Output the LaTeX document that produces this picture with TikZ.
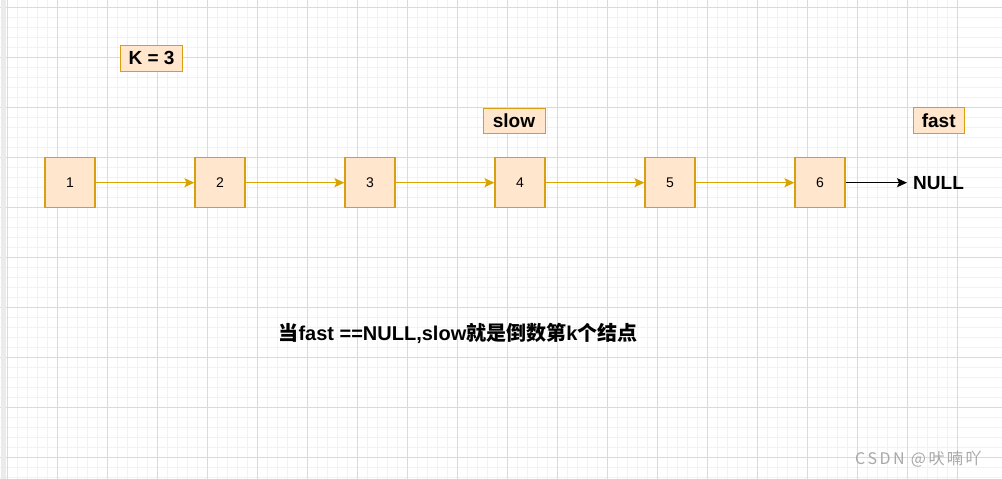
\documentclass[tikz,border=0pt]{standalone}
\usepackage{fontspec}
\setmainfont{Liberation Sans}
\newfontfamily\cjk{Noto Sans CJK SC}
\newfontfamily\cjkwm{Noto Sans CJK SC}[LetterSpace=16]
\usetikzlibrary{arrows.meta}
\definecolor{boxfill}{HTML}{FFE6CC}
\definecolor{boxline}{HTML}{D89F10}
\definecolor{arrowcol}{HTML}{D9A300}
\definecolor{gridmajor}{HTML}{DADADA}
\definecolor{gridminor}{HTML}{F2F2F2}
\definecolor{wmark}{HTML}{A8A8A8}
\tikzset{
  listnode/.style={draw=boxline, fill=boxfill, line width=1.1pt, minimum width=50pt, minimum height=50pt, inner sep=0pt, font=\fontsize{14}{16}\selectfont},
  tagbox/.style={draw=boxline, fill=boxfill, line width=1pt, minimum height=25pt, inner sep=0pt, font=\fontsize{19}{21}\selectfont\bfseries},
  link/.style={draw=arrowcol, line width=1.4pt, -{Stealth[length=10pt,width=9pt,inset=2pt]}},
  blacklink/.style={draw=black, line width=1.2pt, -{Stealth[length=10pt,width=9pt,inset=2pt]}},
}
\begin{document}
\begin{tikzpicture}[x=1pt,y=-1pt]
\useasboundingbox (0,0) rectangle (1002,479);
\fill[white] (0,0) rectangle (1002,479);
% minor grid
\foreach \i in {0,...,100} {\draw[gridminor, line width=0.8pt] ({7.7+10*\i-50},0) -- ({7.7+10*\i-50},479);}
\foreach \j in {0,...,48} {\draw[gridminor, line width=0.8pt] (0,{7+10*\j}) -- (1002,{7+10*\j});}
% major grid
\foreach \i in {0,...,19} {\draw[gridmajor, line width=0.9pt] ({7.7+50*\i},0) -- ({7.7+50*\i},479);}
\foreach \j in {0,...,9} {\draw[gridmajor, line width=0.9pt] (0,{7+50*\j}) -- (1002,{7+50*\j});}
\fill[gridminor!70!gridmajor] (0.5,0) rectangle (6,479);

% list nodes
\node[listnode] (n1) at (70,182.7) {1};
\node[listnode] (n2) at (220,182.7) {2};
\node[listnode] (n3) at (370,182.7) {3};
\node[listnode] (n4) at (520,182.7) {4};
\node[listnode] (n5) at (670,182.7) {5};
\node[listnode] (n6) at (820,182.7) {6};
\node[anchor=west, inner sep=0pt, font=\fontsize{19}{21}\selectfont\bfseries] (null) at (913,182.7) {NULL};

\draw[link] (n1) -- (n2);
\draw[link] (n2) -- (n3);
\draw[link] (n3) -- (n4);
\draw[link] (n4) -- (n5);
\draw[link] (n5) -- (n6);
\draw[blacklink] (n6.east) -- ([xshift=-6pt]null.west);

% tags
\node[tagbox, minimum width=62pt, minimum height=26pt] (k) at (151.5,58) {K = 3};
\node[tagbox, minimum width=62pt] (slow) at (514,120.8) {slow};
\node[tagbox, minimum width=51pt, minimum height=26pt] (fast) at (938.7,120.3) {fast};

% caption
\node[font=\fontsize{20}{22}\selectfont\bfseries, inner sep=0pt] (cap) at (458,333) {{\cjk 当}fast ==NULL,slow{\cjk 就是倒数第}k{\cjk 个结点}};

% watermark
\node[anchor=west, inner sep=0pt, text=wmark, font=\fontsize{16}{18}\selectfont\cjkwm] (wm) at (855,459) {CSDN @吠喃吖};
\end{tikzpicture}
\end{document}
